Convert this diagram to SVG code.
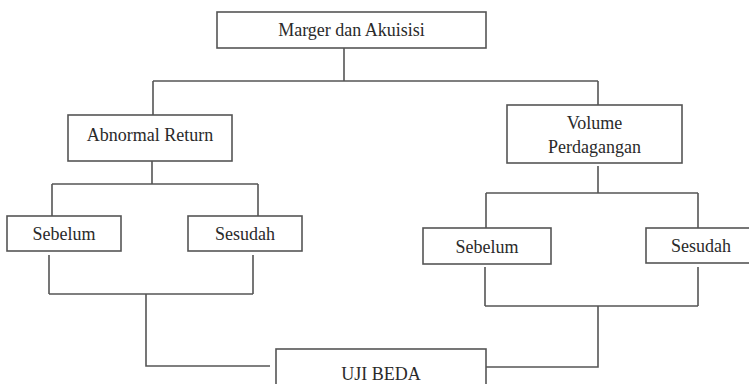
<svg xmlns="http://www.w3.org/2000/svg" width="749" height="384" viewBox="0 0 749 384">
<style>
.box{fill:#fff;stroke:#555;stroke-width:1.6}
.ln{fill:none;stroke:#555;stroke-width:1.6}
text{font-family:"Liberation Serif","Times New Roman",serif;font-size:18px;fill:#2a2a2a;text-anchor:middle}
</style>
<rect width="749" height="384" fill="#fff"/>
<g id="connectors" class="ln">
<path d="M344 48V81M153 81H598M153 81V115M598 81V105"/>
<path d="M152 161V184M52 184H258M52 184V216M258 184V216"/>
<path d="M49 255V294M253 255V294M49 294H253M146 294V366H270"/>
<path d="M598 166V193M486 193H698M486 193V228M698 193V228"/>
<path d="M485 267V306M698 267V306M485 306H698M598 306V367H486"/>
</g>
<g id="merger"><rect class="box" x="217" y="12" width="269" height="36"/><text x="351.5" y="36">Marger dan Akuisisi</text></g>
<g id="abnormal"><rect class="box" x="68" y="115" width="164" height="46"/><text x="150" y="141">Abnormal Return</text></g>
<g id="volume"><rect class="box" x="507" y="105" width="175" height="58"/><text x="594.5" y="129">Volume</text><text x="594.5" y="153">Perdagangan</text></g>
<g id="sebelum-left"><rect class="box" x="7" y="216" width="114" height="35"/><text x="64" y="240">Sebelum</text></g>
<g id="sesudah-left"><rect class="box" x="188" y="216" width="114" height="35"/><text x="245" y="240">Sesudah</text></g>
<g id="sebelum-right"><rect class="box" x="423" y="228" width="128" height="36"/><text x="487" y="253">Sebelum</text></g>
<g id="sesudah-right"><rect class="box" x="646" y="228" width="110" height="35"/><text x="701" y="252">Sesudah</text></g>
<g id="uji"><rect class="box" x="276" y="349" width="210" height="50"/><text x="381" y="380">UJI BEDA</text></g>
</svg>
